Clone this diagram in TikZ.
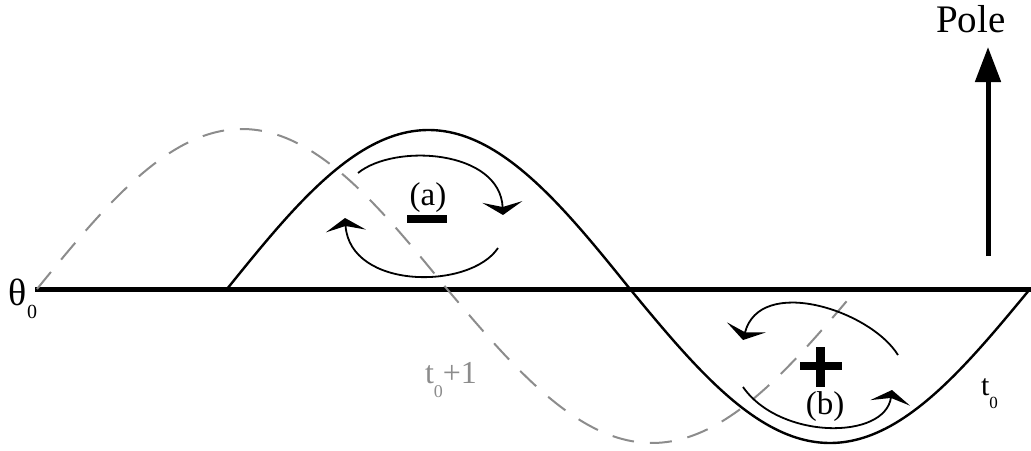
\documentclass[tikz,border=0pt]{standalone}
\usepackage{fontspec}
\setmainfont{Liberation Serif}
\usetikzlibrary{arrows.meta}
\definecolor{dashgray}{RGB}{140,140,140}
\begin{document}
\begin{tikzpicture}[x=1pt,y=-1pt,
  axisline/.style={line width=5pt},
  wave/.style={line width=2.4pt},
  oldwave/.style={line width=2pt,dashgray,dash pattern=on 22pt off 16pt},
  circ/.style={line width=1.8pt,-{Stealth[width=40pt,length=13pt,inset=5pt]}},
  lbl/.style={inner sep=0pt,outer sep=0pt},
  bar/.style={fill=black}]
\useasboundingbox (0,0) rectangle (1031,450);
% axis
\coordinate (axL) at (35,289);
\coordinate (axR) at (1031,289);
\draw[axisline] (axL) -- (axR);
% old (dashed) wave
\draw[oldwave] plot[domain=37:447,samples=90] ({\x},{289-160*sin((\x-37)/410*180)})
  -- plot[domain=447:847,samples=90] ({\x},{289+154*sin((\x-447)/410*180)});
% current wave
\draw[wave] plot[domain=227:630,samples=90] ({\x},{289-159*sin((\x-227)/403*180)})
  -- plot[domain=630:1030,samples=90] ({\x},{289+154*sin((\x-630)/400*180)});
% pole arrow
\coordinate (poleS) at (988,256);
\coordinate (poleT) at (988,47);
\draw[line width=5pt,-{Triangle[width=25pt,length=35pt]}] (poleS) -- (poleT);
\node[lbl,anchor=base west] (pole) at (936,32) {\fontsize{39}{45}\selectfont Pole};
% theta_0
\node[lbl,anchor=base west] (theta) at (9,305) {\fontsize{38}{44}\selectfont θ\raisebox{-13pt}{\fontsize{20}{24}\selectfont 0}};
% t0+1
\node[lbl,anchor=base west,text=dashgray] (tone) at (425,383) {\fontsize{32}{38}\selectfont t\raisebox{-14pt}{\fontsize{18}{22}\selectfont 0}+1};
% t0
\node[lbl,anchor=base west] (tzero) at (981,395) {\fontsize{30}{36}\selectfont t\raisebox{-13pt}{\fontsize{17}{20}\selectfont 0}};
% (a) with minus
\node[lbl] (a) at (428,198) {\fontsize{33}{40}\selectfont (a)};
\fill[bar] (407,215) rectangle (447,223);
\coordinate (a1s) at (358,173);
\coordinate (a1e) at (503,215);
\draw[circ] (a1s) .. controls (395,143) and (500,150) .. (a1e);
\coordinate (a2s) at (498,248);
\coordinate (a2e) at (345,218);
\draw[circ] (a2s) .. controls (470,290) and (350,290) .. (a2e);
% (b) with plus
\node[lbl] (b) at (825,407) {\fontsize{33}{40}\selectfont (b)};
\fill[bar] (816,347) rectangle (825,387);
\fill[bar] (800,362) rectangle (842,370);
\coordinate (b1s) at (898,355);
\coordinate (b1e) at (743,340);
\draw[circ] (b1s) .. controls (870,310) and (760,275) .. (b1e);
\coordinate (b2s) at (743,387);
\coordinate (b2e) at (892,390);
\draw[circ] (b2s) .. controls (780,440) and (885,440) .. (b2e);
\end{tikzpicture}
\end{document}
